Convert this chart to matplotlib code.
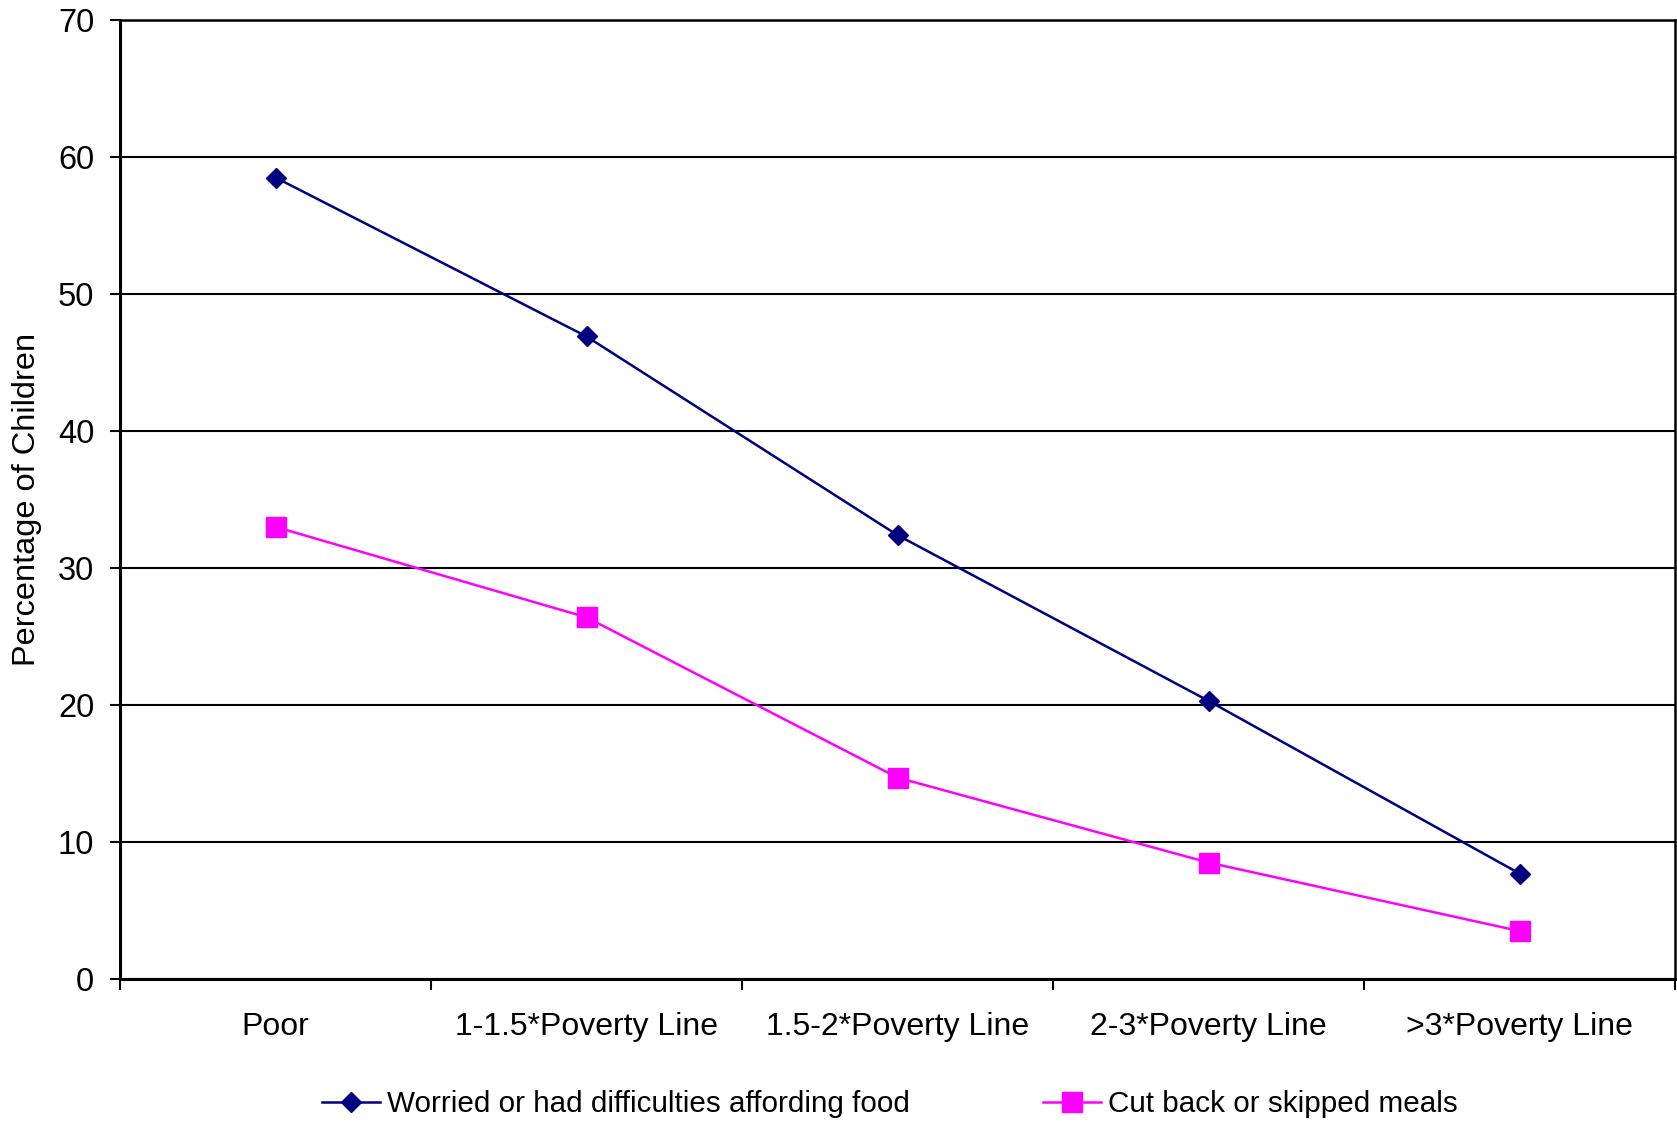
import matplotlib
matplotlib.use('Agg')
import matplotlib.pyplot as plt
import numpy as np

categories = ['Poor', '1-1.5*Poverty Line', '1.5-2*Poverty Line',
              '2-3*Poverty Line', '>3*Poverty Line']
worried = [58.5, 46.9, 32.4, 20.3, 7.7]
cut_back = [33.0, 26.4, 14.7, 8.5, 3.5]
yticks = [0, 10, 20, 30, 40, 50, 60, 70]

plt.rcParams['font.family'] = ['Liberation Sans', 'DejaVu Sans']
plt.rcParams['font.size'] = 21.3

W, H = 1677, 1122
fig = plt.figure(figsize=(W / 100, H / 100), dpi=100)
ax = fig.add_axes([120 / W, 1 - 979 / H, 1555 / W, 959 / H])

x = np.arange(len(categories))
ax.plot(x, worried, color='#000080', linewidth=1.8, marker='D', markersize=10.5,
        label='Worried or had difficulties affording food', zorder=5)
ax.plot(x, cut_back, color='#FF00FF', linewidth=1.8, marker='s', markersize=14,
        label='Cut back or skipped meals', zorder=5)

ax.set_xlim(-0.5, len(categories) - 0.5)
ax.set_ylim(0, 70)
ax.set_yticks(yticks)
ax.yaxis.grid(True, color='black', linewidth=1.5)
ax.set_axisbelow(True)

# category boundaries carry tick marks, labels sit at the centres
ax.set_xticks(np.arange(-0.5, len(categories)), labels=[''] * (len(categories) + 1))
ax.set_xticks(x, labels=categories, minor=True)
ax.tick_params(axis='x', which='major', direction='out', length=8, width=1.5)
ax.tick_params(axis='x', which='minor', length=0, pad=23.5, labelsize=23)
ax.tick_params(axis='y', direction='out', length=7.5, width=1.5, pad=11, labelsize=23.5)

for side in ['left', 'bottom']:
    ax.spines[side].set_linewidth(2.2)
for side in ['top', 'right']:
    ax.spines[side].set_linewidth(1.8)

ax.set_ylabel('Percentage of Children', fontsize=23.4)
ax.yaxis.set_label_coords((42 - 120) / 1555, 0.5)

fig.legend(loc='center', bbox_to_anchor=(890 / W, 1 - 1104 / H), ncol=2,
           frameon=False, handlelength=1.95, handletextpad=0.25, columnspacing=4.5)

fig.savefig('out.png', dpi=100)
